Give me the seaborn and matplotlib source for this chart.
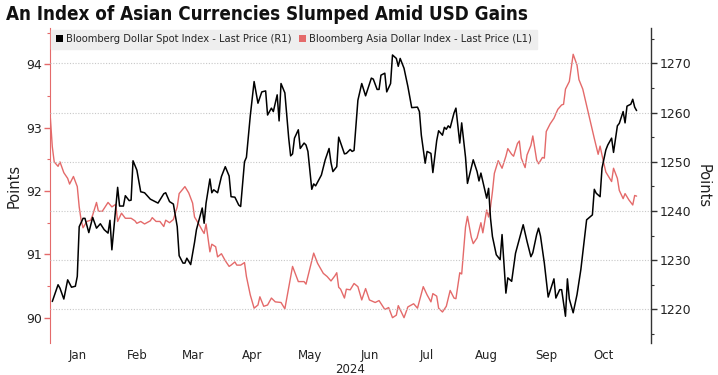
import pandas as pd
import numpy as np
import seaborn as sns
import matplotlib.pyplot as plt
import matplotlib.dates as mdates
from matplotlib.patches import Patch
from matplotlib.ticker import MultipleLocator

# days since 1 Jan 2024
usd_days = [1, 4, 5, 7, 9, 11, 13, 14, 15, 17, 18, 20, 22, 24, 26, 28, 30, 31, 32, 35,
            36, 38, 39, 41, 42, 43, 45, 47, 49, 52, 54, 56, 59, 60, 62, 64, 66, 67, 69, 70,
            71, 73, 75, 76, 79, 80, 81, 83, 84, 85, 87, 89, 91, 93, 94, 96, 98, 99, 101, 102,
            104, 106, 108, 110, 112, 113, 115, 116, 118, 119, 120, 122, 124, 125, 126, 127, 129, 130, 132, 133,
            134, 136, 137, 138, 141, 143, 145, 146, 147, 149, 150, 152, 153, 154, 156, 157, 158, 160, 162, 164,
            167, 168, 170, 171, 172, 174, 175, 177, 178, 180, 181, 182, 184, 186, 188, 191, 192, 193, 195, 196,
            198, 199, 201, 202, 204, 205, 206, 207, 208, 210, 211, 213, 214, 216, 217, 220, 222, 223, 224, 226,
            227, 228, 229, 230, 232, 234, 235, 237, 238, 240, 242, 244, 246, 248, 250, 251, 253, 254, 255, 257,
            259, 261, 262, 263, 265, 266, 268, 269, 270, 272, 274, 276, 279, 282, 283, 284, 286, 287, 289, 290,
            292, 293, 295, 296, 298, 299, 300, 302, 303, 304, 305]
usd_vals = [1221.6, 1225.0, 1224.3, 1222.1, 1226.0, 1224.5, 1224.7, 1226.7, 1236.8, 1238.5, 1238.5, 1235.6, 1238.7, 1236.5, 1237.4, 1236.2, 1235.5, 1238.1, 1232.1, 1244.8,
            1241.0, 1241.0, 1243.1, 1242.1, 1242.2, 1250.2, 1248.3, 1243.9, 1243.7, 1242.4, 1242.0, 1241.6, 1243.5, 1243.7, 1241.9, 1241.4, 1236.8, 1230.9, 1229.4, 1229.4,
            1230.4, 1229.1, 1233.6, 1236.2, 1240.6, 1237.5, 1241.6, 1246.5, 1243.7, 1244.3, 1243.7, 1247.0, 1249.0, 1247.1, 1242.9, 1242.8, 1241.2, 1240.9, 1250.0, 1250.9,
            1259.3, 1266.3, 1261.9, 1264.2, 1264.4, 1259.5, 1260.9, 1260.2, 1263.6, 1258.3, 1265.9, 1264.0, 1254.8, 1251.2, 1251.6, 1254.8, 1256.5, 1252.7, 1253.8, 1253.4,
            1252.1, 1244.4, 1245.5, 1245.1, 1247.3, 1250.4, 1252.7, 1249.8, 1248.0, 1249.0, 1255.0, 1252.7, 1251.6, 1251.7, 1252.5, 1252.1, 1252.3, 1262.5, 1265.9, 1263.4,
            1267.0, 1266.8, 1264.7, 1264.7, 1267.6, 1268.0, 1264.2, 1265.9, 1271.7, 1271.0, 1269.4, 1271.0, 1269.0, 1265.3, 1261.0, 1261.1, 1260.2, 1255.4, 1249.7, 1252.1,
            1251.7, 1247.8, 1254.3, 1256.3, 1255.4, 1257.0, 1256.6, 1257.3, 1256.9, 1259.9, 1260.9, 1253.8, 1257.9, 1250.9, 1245.6, 1250.4, 1248.0, 1246.1, 1247.7, 1244.3,
            1242.6, 1244.6, 1238.5, 1234.8, 1231.1, 1230.1, 1235.2, 1223.3, 1226.4, 1225.7, 1231.4, 1234.3, 1237.2, 1233.8, 1230.7, 1231.5, 1235.2, 1236.5, 1234.9, 1229.4,
            1222.5, 1225.0, 1226.2, 1222.3, 1224.0, 1224.0, 1218.6, 1226.2, 1222.1, 1219.3, 1223.0, 1228.1, 1238.2, 1239.2, 1244.4, 1243.6, 1242.9, 1248.7, 1252.4, 1253.4,
            1254.8, 1251.9, 1257.3, 1257.8, 1260.2, 1257.9, 1261.3, 1261.7, 1262.7, 1261.1, 1260.4]

asia_days = [0, 1, 2, 4, 5, 7, 9, 10, 12, 14, 15, 16, 17, 19, 21, 22, 24, 25, 27, 30,
             32, 34, 35, 37, 39, 42, 44, 45, 47, 49, 52, 53, 55, 57, 59, 60, 62, 64, 66, 67,
             70, 72, 74, 75, 77, 79, 80, 81, 83, 84, 86, 87, 89, 91, 93, 94, 96, 97, 99, 101,
             102, 104, 106, 108, 109, 111, 113, 115, 117, 120, 122, 126, 129, 132, 133, 137, 139, 142, 144, 146,
             148, 149, 150, 151, 153, 154, 156, 158, 160, 162, 164, 166, 169, 171, 174, 176, 178, 180, 181, 184,
             186, 189, 191, 194, 196, 198, 199, 201, 202, 204, 206, 208, 210, 211, 213, 214, 216, 217, 219, 220,
             222, 224, 225, 227, 228, 229, 230, 231, 233, 235, 237, 238, 240, 241, 243, 244, 245, 247, 248, 250,
             251, 253, 254, 256, 257, 258, 260, 262, 264, 266, 267, 268, 270, 272, 274, 275, 277, 279, 281, 283,
             285, 286, 288, 289, 290, 292, 293, 295, 296, 298, 299, 301, 303, 304, 305]
asia_vals = [93.15, 92.70, 92.46, 92.39, 92.46, 92.29, 92.20, 92.11, 92.23, 92.07, 91.75, 91.54, 91.42, 91.52, 91.54, 91.62, 91.82, 91.68, 91.68, 91.82,
             91.75, 91.79, 91.52, 91.65, 91.57, 91.57, 91.53, 91.49, 91.52, 91.48, 91.53, 91.58, 91.52, 91.52, 91.44, 91.54, 91.50, 91.55, 91.75, 91.96,
             92.07, 91.97, 91.81, 91.59, 91.49, 91.38, 91.33, 91.48, 91.04, 91.16, 91.12, 90.96, 91.01, 90.90, 90.81, 90.83, 90.88, 90.83, 90.83, 90.87,
             90.65, 90.36, 90.15, 90.20, 90.33, 90.18, 90.20, 90.31, 90.25, 90.24, 90.14, 90.81, 90.57, 90.57, 90.53, 91.02, 90.86, 90.70, 90.65, 90.58,
             90.66, 90.71, 90.48, 90.45, 90.31, 90.45, 90.44, 90.54, 90.49, 90.28, 90.46, 90.28, 90.24, 90.27, 90.13, 90.16, 90.00, 90.04, 90.19, 90.00,
             90.17, 90.22, 90.15, 90.49, 90.36, 90.25, 90.38, 90.34, 90.15, 90.09, 90.18, 90.43, 90.31, 90.30, 90.71, 90.69, 91.43, 91.60, 91.27, 91.17,
             91.26, 91.50, 91.34, 91.70, 91.59, 91.75, 91.99, 92.28, 92.48, 92.36, 92.55, 92.67, 92.58, 92.55, 92.75, 92.79, 92.52, 92.37, 92.57, 92.72,
             92.87, 92.49, 92.43, 92.53, 92.52, 92.94, 93.06, 93.15, 93.29, 93.36, 93.37, 93.61, 93.73, 94.16, 93.99, 93.76, 93.61, 93.35, 93.09, 92.83,
             92.58, 92.71, 92.43, 92.30, 92.25, 92.15, 92.36, 92.20, 92.01, 91.88, 91.96, 91.86, 91.78, 91.93, 91.92]

usd_label = "Bloomberg Dollar Spot Index - Last Price (R1)"
asia_label = "Bloomberg Asia Dollar Index - Last Price (L1)"
usd_color = "#000000"
asia_color = "#e46a6a"

start = pd.Timestamp("2024-01-01")
usd = pd.DataFrame({"date": start + pd.to_timedelta(usd_days, unit="D"), "value": usd_vals})
asia = pd.DataFrame({"date": start + pd.to_timedelta(asia_days, unit="D"), "value": asia_vals})

sns.set_style("white")
plt.rcParams["font.family"] = ["DejaVu Sans"]

fig = plt.figure(figsize=(7.18, 3.75), dpi=100)
ax = fig.add_axes([0.0696, 0.0853, 0.8371, 0.8397])
ax2 = ax.twinx()

sns.lineplot(data=asia, x="date", y="value", ax=ax, color=asia_color, linewidth=1.0)
sns.lineplot(data=usd, x="date", y="value", ax=ax2, color=usd_color, linewidth=1.1)

ax.set_xlim(start - pd.Timedelta(hours=5), start + pd.Timedelta(days=312.5))
ax.set_ylim(89.60, 94.573)
ax2.set_ylim(1213.16, 1277.16)

# month gridlines, labels centred mid-month
for a in (ax, ax2):
    a.xaxis.set_major_locator(mdates.MonthLocator())
    a.xaxis.set_minor_locator(mdates.MonthLocator(bymonthday=15))
    a.xaxis.set_major_formatter(plt.NullFormatter())
    a.xaxis.set_minor_formatter(mdates.DateFormatter("%b"))
ax.tick_params(axis="x", which="both", length=0, labelsize=8.5, pad=4, colors="#222222")
ax2.tick_params(axis="x", which="both", length=0)
ax.set_xlabel("2024", fontsize=8.5, labelpad=1, color="#222222")

ax2.grid(True, which="major", axis="both", color="#c8c8c8", linestyle=(0, (1, 1.5)), linewidth=0.8)
ax.grid(False)

ax.yaxis.set_major_locator(MultipleLocator(1))
ax.yaxis.set_minor_locator(MultipleLocator(0.5))
ax.tick_params(axis="y", which="major", length=4, width=1, color=asia_color, labelsize=9, pad=2, labelcolor="#222222")
ax.tick_params(axis="y", which="minor", length=2.5, width=0.8, color=asia_color)
ax2.yaxis.set_major_locator(MultipleLocator(10))
ax2.yaxis.set_minor_locator(MultipleLocator(5))
ax2.tick_params(axis="y", which="major", length=4, width=1, color="#333333", labelsize=9, pad=2, labelcolor="#222222")
ax2.tick_params(axis="y", which="minor", length=2.5, width=0.8, color="#333333")

for a in (ax, ax2):
    a.spines["top"].set_visible(False)
    a.spines["bottom"].set_visible(False)
ax.spines["left"].set_color(asia_color)
ax.spines["left"].set_linewidth(0.8)
ax.spines["right"].set_visible(False)
ax2.spines["left"].set_visible(False)
ax2.spines["right"].set_color("#333333")
ax2.spines["right"].set_linewidth(1.0)

ax.set_ylabel("Points", fontsize=10.5, labelpad=3, color="#222222")
ax2.set_ylabel("Points", fontsize=10.5, labelpad=3, rotation=270, va="bottom", color="#222222")

handles = [Patch(facecolor=usd_color, edgecolor="none"), Patch(facecolor=asia_color, edgecolor="none")]
leg = ax2.legend(handles, [usd_label, asia_label], loc="upper left", bbox_to_anchor=(0.0, 1.0),
                 ncol=2, fontsize=7.2, frameon=True, fancybox=False, facecolor="#eeeeee", edgecolor="#eeeeee",
                 framealpha=1, handlelength=0.7, handleheight=0.7, handletextpad=0.3, columnspacing=0.8,
                 borderpad=0.45, borderaxespad=0.15)

fig.text(0.008, 0.962, "An Index of Asian Currencies Slumped Amid USD Gains",
         family=["DejaVu Sans"], fontstretch="condensed", fontsize=13.5, fontweight="bold",
         va="center", ha="left", color="#111111")

fig.savefig("out.png", dpi=100)
